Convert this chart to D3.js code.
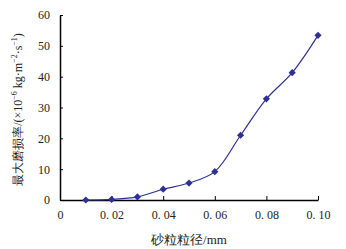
<!DOCTYPE html>
<html>
<head>
<meta charset="utf-8">
<script src="https://cdn.jsdelivr.net/npm/d3@7"></script>
<style>
  body { margin: 0; background: #fff; }
  text { font-family: "Liberation Serif", "DejaVu Serif", serif; }
</style>
</head>
<body>
<svg id="chart" width="346" height="249"></svg>
<script>
// Data
const sizes = [0.01, 0.02, 0.03, 0.04, 0.05, 0.06, 0.07, 0.08, 0.09, 0.10];
const wearRate = [0, 0.2, 1.0, 3.5, 5.5, 9.2, 21.0, 32.8, 41.3, 53.4];
const xTicks = [0, 0.02, 0.04, 0.06, 0.08, 0.10];
const xTickLabels = ["0", "0. 02", "0. 04", "0. 06", "0. 08", "0. 10"];
const yTicks = [0, 10, 20, 30, 40, 50, 60];

const width = 346, height = 249;
let margin = {top: 15, right: 28, bottom: 49, left: 60};

const svg = d3.select("#chart");
const data = sizes.map((s, i) => ({x: s, y: wearRate[i]}));

var x = d3.scaleLinear()
    .domain([0, 0.10])
    .range([margin.left, width - margin.right]);
var y = d3.scaleLinear()
    .domain([0, 60])
    .range([height - margin.bottom, margin.top]);

const color = "#2e3192";

// X axis, ticks pointing inward
svg.append("g")
    .attr("transform", `translate(0,${y(0)})`)
    .call(d3.axisBottom(x).tickValues(xTicks).tickSizeInner(-4).tickSizeOuter(0)
        .tickFormat((d, i) => xTickLabels[i]))
    .call(g => g.select(".domain").attr("stroke", "#000").attr("stroke-width", 1.5))
    .call(g => g.selectAll(".tick line").attr("stroke", "#000"))
    .call(g => g.selectAll(".tick text").attr("y", 10).attr("dy", "0.71em")
        .style("font-size", "12px").attr("fill", "#222"));

// Y axis
svg.append("g")
    .attr("transform", `translate(${x(0)},0)`)
    .call(d3.axisLeft(y).tickValues(yTicks).tickSizeInner(-3).tickSizeOuter(0))
    .call(g => g.select(".domain").attr("stroke", "#000").attr("stroke-width", 1.5))
    .call(g => g.selectAll(".tick line").attr("stroke", "#000"))
    .call(g => g.selectAll(".tick text").attr("x", -10)
        .style("font-size", "12px").attr("fill", "#222"));

// curve
svg.append("path")
    .datum(data)
    .attr("fill", "none")
    .attr("stroke", color)
    .attr("stroke-width", 1.2)
    .attr("d", d3.line().curve(d3.curveCatmullRom.alpha(0.5))
        .x(d => x(d.x)).y(d => y(d.y)));

// diamond markers
svg.selectAll(".pt")
    .data(data)
    .enter()
    .append("path")
    .attr("class", "pt")
    .attr("transform", d => `translate(${x(d.x)},${y(d.y)}) rotate(45)`)
    .attr("d", d3.symbol(d3.symbolSquare, 26)())
    .attr("fill", color);

// axis titles
svg.append("text")
    .attr("x", 189).attr("y", 244)
    .attr("text-anchor", "middle")
    .style("font-size", "13px")
    .attr("fill", "#222")
    .text("砂粒粒径/mm");

const yt = svg.append("text")
    .attr("transform", `translate(22,${(y(0) + y(60)) / 2 + 2}) rotate(-90)`)
    .attr("text-anchor", "middle")
    .style("font-size", "12px")
    .attr("fill", "#222");
yt.append("tspan").text("最大磨损率/(×10");
yt.append("tspan").attr("dy", -5).style("font-size", "8px").text("−6");
yt.append("tspan").attr("dy", 5).text(" kg·m");
yt.append("tspan").attr("dy", -5).style("font-size", "8px").text("−2");
yt.append("tspan").attr("dy", 5).text("·s");
yt.append("tspan").attr("dy", -5).style("font-size", "8px").text("−1");
yt.append("tspan").attr("dy", 5).text(")");
</script>
</body>
</html>
